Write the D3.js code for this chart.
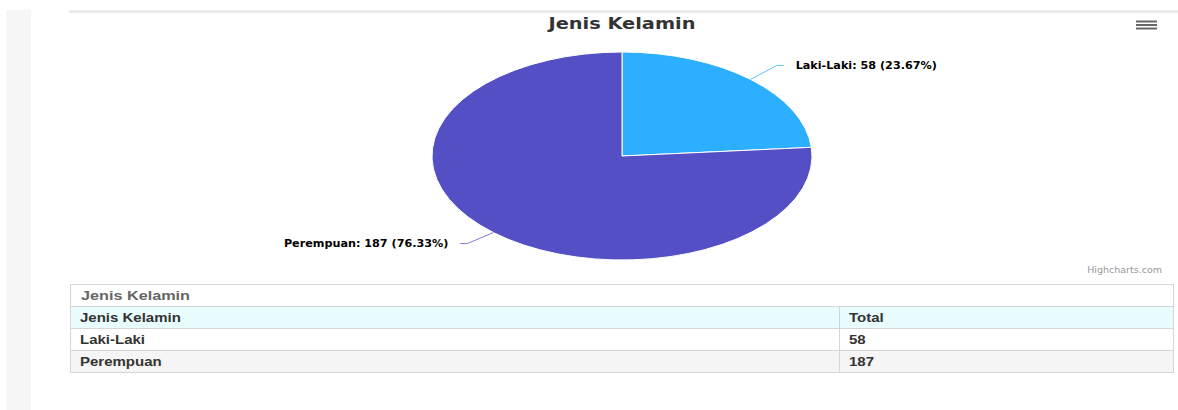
<!DOCTYPE html>
<html>
<head>
<meta charset="utf-8">
<script src="https://cdn.jsdelivr.net/npm/d3@7"></script>
<style>
  body { margin: 0; background: #fff; width: 1178px; height: 410px; overflow: hidden; position: relative; }
  #strip { position: absolute; left: 6px; top: 10px; width: 25px; height: 400px; background: #f7f7f7; }
  svg { position: absolute; left: 0; top: 0; }
  table.data { position: absolute; left: 70px; top: 284px; width: 1104px; border-collapse: collapse;
    font-family: "Liberation Sans", Arial, sans-serif; font-size: 12.5px; color: #333; }
  table.data caption { text-align: left; border: 1px solid #d6d6d6; border-bottom: none; padding: 3px 10px; height: 15px;
    color: #666; font-size: 13.5px; font-weight: bold; }
  table.data td, table.data th { border: 1px solid #d6d6d6; padding: 0 9px; height: 21px; text-align: left; font-weight: bold; }
  table.data span { display: inline-block; transform: scale(1.2, 1); transform-origin: left center; }
  table.data thead tr { background: #e9fcfe; }
  table.data tbody tr:nth-child(2) { background: #f5f5f5; }
</style>
</head>
<body>
<div id="strip"></div>
<div id="chart"></div>
<script>
// chart data
const categories = ["Laki-Laki", "Perempuan"];
const totals = [58, 187];
const colors = ["#2caffe", "#544fc5"];

const width = 1178;
const height = 410;
const cx = 622, cy = 156;
const ry = 104, rx = 190;

const svg = d3.select("#chart").append("svg")
    .attr("width", width)
    .attr("height", height);

// top border line of the card
svg.append("line")
    .attr("x1", 69).attr("x2", width)
    .attr("y1", 11.5).attr("y2", 11.5)
    .style("stroke", "#e4e4e4")
    .style("stroke-width", 2);

// title
svg.append("text")
    .attr("x", cx)
    .attr("y", 29)
    .attr("text-anchor", "middle")
    .style("font-family", "DejaVu Sans, Verdana, sans-serif")
    .style("font-size", "15px")
    .style("font-weight", "bold")
    .style("fill", "#333")
    .attr("textLength", 147)
    .attr("lengthAdjust", "spacingAndGlyphs")
    .text("Jenis Kelamin");

// hamburger menu
svg.append("g").selectAll("line")
    .data([21.5, 25, 28.5])
    .enter().append("line")
    .attr("x1", 1136).attr("x2", 1157)
    .attr("y1", d => d).attr("y2", d => d)
    .style("stroke", "#666")
    .style("stroke-width", 2);

const pieData = categories.map((c, i) => ({ name: c, value: totals[i], color: colors[i] }));
const total = d3.sum(totals);

const pie = d3.pie().value(d => d.value).sort(null);
const arcs = pie(pieData);
const arc = d3.arc().innerRadius(0).outerRadius(ry);

// pie is drawn stretched horizontally like the reference
const pieG = svg.append("g")
    .attr("transform", `translate(${cx},${cy}) scale(${rx / ry},1)`);

pieG.selectAll("path")
    .data(arcs)
    .enter().append("path")
    .attr("d", arc)
    .style("fill", d => d.data.color)
    .style("stroke", "#fff")
    .style("stroke-width", 1)
    .attr("vector-effect", "non-scaling-stroke");

// data labels with connectors
const labels = svg.append("g");
arcs.forEach(function (d) {
    const mid = (d.startAngle + d.endAngle) / 2;
    const sx = cx + rx * Math.sin(mid);
    const sy = cy - ry * Math.cos(mid);
    const right = Math.sin(mid) > 0;
    const dir = right ? 1 : -1;
    const kx = sx + dir * 26;
    const ky = sy + (Math.cos(mid) > 0 ? -14 : 11);
    const ex = kx + dir * 7;

    labels.append("path")
        .attr("d", `M${sx},${sy}L${kx},${ky}L${ex},${ky}`)
        .style("fill", "none")
        .style("stroke", d.data.color)
        .style("stroke-opacity", 0.75)
        .style("stroke-width", 1);

    const pct = (d.data.value / total * 100).toFixed(2);
    labels.append("text")
        .attr("x", ex + dir * 12)
        .attr("y", ky + 3.5)
        .attr("text-anchor", right ? "start" : "end")
        .style("font-family", "DejaVu Sans, Verdana, sans-serif")
        .style("font-size", "11.2px")
        .style("font-weight", "bold")
        .style("fill", "#000")
        .text(`${d.data.name}: ${d.data.value} (${pct}%)`);
});

// credits
svg.append("text")
    .attr("x", 1162)
    .attr("y", 273)
    .attr("text-anchor", "end")
    .style("font-family", "DejaVu Sans, Verdana, sans-serif")
    .style("font-size", "9.5px")
    .style("fill", "#999")
    .text("Highcharts.com");

// data table under the chart
const table = d3.select("body").append("table").attr("class", "data");
table.append("caption").append("span").text("Jenis Kelamin");
table.append("thead").append("tr")
    .selectAll("th")
    .data(["Jenis Kelamin", "Total"])
    .enter().append("th")
    .style("width", (d, i) => i === 0 ? "750px" : null)
    .append("span")
    .text(d => d);
table.append("tbody").selectAll("tr")
    .data(pieData)
    .enter().append("tr")
    .selectAll("td")
    .data(d => [d.name, d.value])
    .enter().append("td")
    .append("span")
    .text(d => d);
</script>
</body>
</html>
